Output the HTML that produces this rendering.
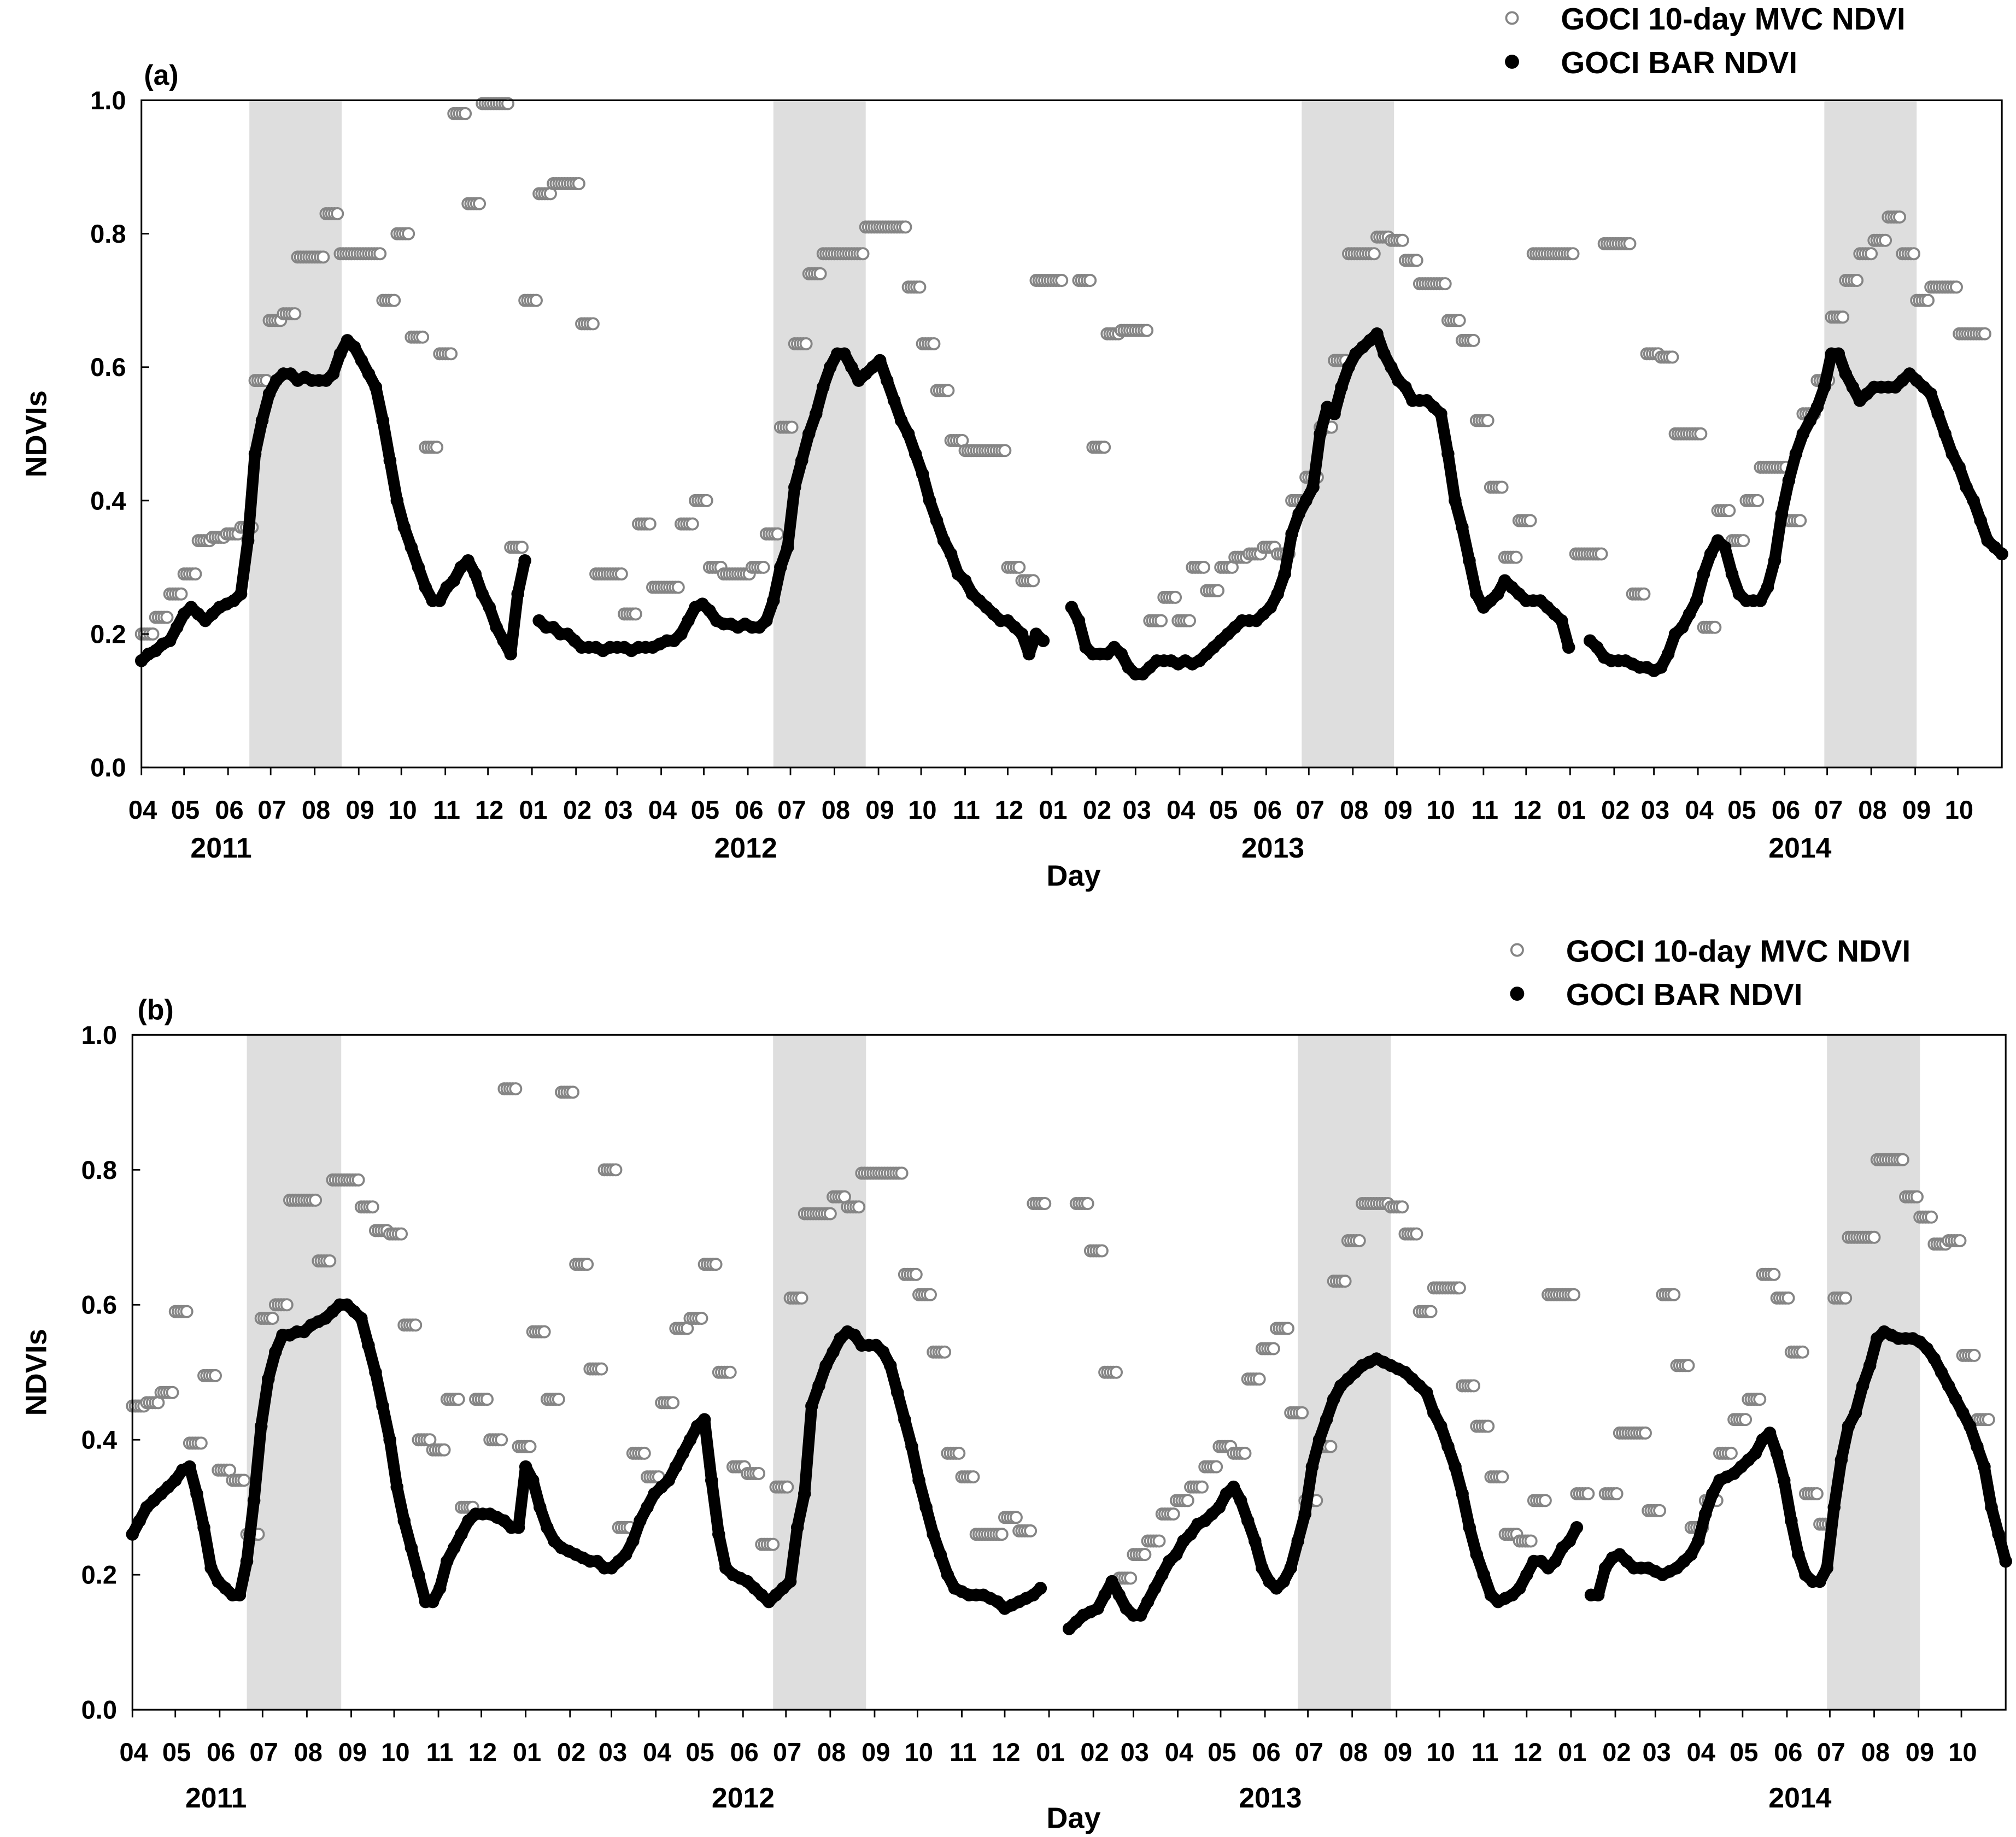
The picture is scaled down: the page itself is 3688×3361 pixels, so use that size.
<!DOCTYPE html>
<html><head><meta charset="utf-8"><style>
html,body{margin:0;padding:0;background:#fff;}
svg{display:block;font-family:"Liberation Sans",Arial,sans-serif;}
</style></head><body>
<svg id="chart" width="3688" height="3361" viewBox="0 0 1568 1429" preserveAspectRatio="none" xmlns="http://www.w3.org/2000/svg">
<rect width="1568" height="1429" fill="#fff"/>
</svg>
<script>
// ---- data (5-day step for BAR, 10-day step for MVC; day 0 = 2011-04-01) ----
const barA = [.16,.17,.175,.185,.19,.21,.23,.24,.23,.22,.23,.24,.245,.25,.26,.34,.47,.52,.56,.58,.59,.59,.58,.585,.58,.58,.58,.59,.62,.64,.63,.61,.59,.57,.52,.46,.40,.36,.33,.30,.27,.25,.25,.27,.28,.30,.31,.29,.26,.24,.21,.19,.17,.26,.31,null,.22,.21,.21,.20,.20,.19,.18,.18,.18,.175,.18,.18,.18,.175,.18,.18,.18,.185,.19,.19,.20,.22,.24,.245,.235,.22,.215,.215,.21,.215,.21,.21,.22,.25,.30,.33,.42,.46,.50,.53,.57,.60,.62,.62,.60,.58,.59,.60,.61,.58,.55,.52,.50,.47,.44,.40,.37,.34,.32,.29,.28,.26,.25,.24,.23,.22,.22,.21,.20,.17,.20,.19,null,null,null,.24,.22,.18,.17,.17,.17,.18,.17,.15,.14,.14,.15,.16,.16,.16,.155,.16,.155,.16,.17,.18,.19,.20,.21,.22,.22,.22,.23,.24,.26,.29,.35,.38,.40,.42,.50,.54,.53,.57,.60,.62,.63,.64,.65,.62,.60,.58,.57,.55,.55,.55,.54,.53,.47,.40,.36,.31,.26,.24,.25,.26,.28,.27,.26,.25,.25,.25,.24,.23,.22,.18,null,null,.19,.18,.165,.16,.16,.16,.155,.15,.15,.145,.15,.17,.20,.21,.23,.25,.29,.32,.34,.33,.29,.26,.25,.25,.25,.27,.31,.38,.43,.47,.50,.52,.54,.57,.62,.62,.59,.57,.55,.56,.57,.57,.57,.57,.58,.59,.58,.57,.56,.53,.50,.47,.45,.42,.40,.37,.34,.33,.32];
const mvcA = [.20,.225,.26,.29,.34,.345,.35,.36,.58,.67,.68,.765,.765,.83,.77,.77,.77,.70,.80,.645,.48,.62,.98,.845,.995,.995,.33,.70,.86,.875,.875,.665,.29,.29,.23,.365,.27,.27,.365,.40,.30,.29,.29,.30,.35,.51,.635,.74,.77,.77,.77,.81,.81,.81,.72,.635,.565,.49,.475,.475,.475,.30,.28,.73,.73,null,.73,.48,.65,.655,.655,.22,.255,.22,.30,.265,.30,.315,.32,.33,.32,.40,.435,.51,.61,.77,.77,.795,.79,.76,.725,.725,.67,.64,.52,.42,.315,.37,.77,.77,.77,.32,.32,.785,.785,.26,.62,.615,.50,.50,.21,.385,.34,.40,.45,.45,.37,.53,.58,.675,.73,.77,.79,.825,.77,.70,.72,.72,.65,.65,null];
const barB = [.26,.28,.30,.31,.32,.33,.34,.355,.36,.32,.27,.21,.19,.18,.17,.17,.22,.31,.42,.49,.53,.555,.555,.56,.56,.57,.575,.58,.59,.60,.60,.59,.58,.54,.50,.45,.40,.33,.28,.24,.20,.16,.16,.18,.22,.24,.26,.28,.29,.29,.29,.285,.28,.27,.27,.36,.34,.30,.27,.25,.24,.235,.23,.225,.22,.22,.21,.21,.22,.23,.25,.28,.30,.32,.33,.34,.36,.38,.40,.42,.43,.34,.26,.21,.20,.195,.19,.18,.17,.16,.17,.18,.19,.27,.32,.45,.48,.51,.53,.55,.56,.555,.54,.54,.54,.53,.51,.47,.43,.39,.34,.30,.26,.23,.20,.18,.175,.17,.17,.17,.165,.16,.15,.155,.16,.165,.17,.18,null,null,null,.12,.13,.14,.145,.15,.17,.19,.17,.15,.14,.14,.16,.18,.20,.22,.23,.25,.26,.275,.28,.29,.30,.32,.33,.31,.28,.25,.21,.19,.18,.19,.21,.25,.29,.36,.40,.43,.46,.48,.49,.50,.51,.515,.52,.515,.51,.505,.50,.49,.48,.47,.44,.42,.39,.36,.32,.27,.23,.20,.17,.16,.165,.17,.18,.20,.22,.22,.21,.22,.24,.25,.27,null,.17,.17,.21,.225,.23,.22,.21,.21,.21,.205,.20,.205,.21,.22,.23,.25,.29,.32,.34,.345,.35,.36,.37,.38,.40,.41,.38,.34,.28,.23,.20,.19,.19,.21,.30,.37,.42,.44,.48,.51,.55,.56,.555,.55,.55,.55,.545,.535,.52,.50,.48,.46,.44,.42,.39,.36,.30,.26,.22];
const mvcB = [.45,.455,.47,.59,.395,.495,.355,.34,.26,.58,.60,.755,.755,.665,.785,.785,.745,.71,.705,.57,.40,.385,.46,.30,.46,.40,.92,.39,.56,.46,.915,.66,.505,.80,.27,.38,.345,.455,.565,.58,.66,.50,.36,.35,.245,.33,.61,.735,.735,.76,.745,.795,.795,.795,.645,.615,.53,.38,.345,.26,.26,.285,.265,.75,null,null,.75,.68,.50,.195,.23,.25,.29,.31,.33,.36,.39,.38,.49,.535,.565,.44,.31,.39,.635,.695,.75,.75,.745,.705,.59,.625,.625,.48,.42,.345,.26,.25,.31,.615,.615,.32,null,.32,.41,.41,.295,.615,.51,.27,.31,.38,.43,.46,.645,.61,.53,.32,.275,.61,.70,.70,.815,.815,.76,.73,.69,.695,.525,.43,null];
const bandsA = [[76,141],[445,510],[817,882],[1185,1250]];
const bandsB = [[80,146],[448,513],[815,880],[1185,1250]];
const yTicks = ["0.0","0.2","0.4","0.6","0.8","1.0"];
const years = ["2011","2012","2013","2014"];

const NS="http://www.w3.org/2000/svg";
const svg=document.getElementById('chart');
function mk(tag,attrs,parent){const e=document.createElementNS(NS,tag);for(const k in attrs)e.setAttribute(k,attrs[k]);(parent||svg).appendChild(e);return e;}
const TOTAL=1310;
function dayOf(y,m){return Math.round((Date.UTC(y,m-1,1)-Date.UTC(2011,3,1))/86400000);}

function panel(p){
  const g=mk('g',{});
  
  
  const xs=d=>p.x0+d/TOTAL*(p.x1-p.x0);
  const ys=v=>p.y0-v*(p.y0-p.y1);
  p.bands.forEach(b=>{const r=mk('rect',{x:xs(b[0]),y:p.y1,width:xs(b[1])-xs(b[0]),height:p.y0-p.y1,fill:'#dedede'},g);
    
    });
  // MVC
  p.mvc.forEach((v,j)=>{if(v==null)return;for(let k=0;k<10;k+=2){const d=j*10+k;if(d>TOTAL)continue;
    const c=mk('circle',{cx:xs(d),cy:ys(v),r:4.3,fill:'#fff',stroke:'#858585','stroke-width':1.6},g);
    
    }});
  // BAR: connect consecutive daily-composite samples with thick round segments (dense dot look)
  for(let i=1;i<p.bar.length;i++){const a=p.bar[i-1],b=p.bar[i];if(a==null||b==null)continue;
    const s=mk('line',{x1:xs((i-1)*5),y1:ys(a),x2:xs(i*5),y2:ys(b),stroke:'#000','stroke-width':9,'stroke-linecap':'round'},g);
    
    }
  p.bar.forEach((v,i)=>{if(v==null)return;const c=mk('circle',{cx:xs(i*5),cy:ys(v),r:5,fill:'#000'},g);
    
    });
  mk('rect',{x:p.x0,y:p.y1,width:p.x1-p.x0,height:p.y0-p.y1,fill:'none',stroke:'#000','stroke-width':1.3},g);
  yTicks.forEach(t=>{const y=ys(parseFloat(t));mk('line',{x1:p.x0,x2:p.x0+6,y1:y,y2:y,stroke:'#000','stroke-width':1.2},g);
    const tx=mk('text',{x:p.x0-12,y:y+7,'text-anchor':'end','font-size':20,'font-weight':'bold'},g);tx.textContent=t;
    
    });
  for(let k=0;k<43;k++){const yr=2011+Math.floor((k+3)/12),m=((k+3)%12)+1;const x=xs(dayOf(yr,m));
    mk('line',{x1:x,x2:x,y1:p.y0,y2:p.y0+6,stroke:'#000','stroke-width':1.2},g);
    const tx=mk('text',{x:x+1,y:p.y0+40,'text-anchor':'middle','font-size':20,'font-weight':'bold'},g);tx.textContent=String(m).padStart(2,'0');
    
    }
  years.forEach((y,i)=>{const tx=mk('text',{x:p.yearX[i],y:p.y0+p.yearDy,'text-anchor':'middle','font-size':22,'font-weight':'bold'},g);tx.textContent=y;
    
    });
  const dl=mk('text',{x:835,y:p.y0+92,'text-anchor':'middle','font-size':23,'font-weight':'bold'},g);dl.textContent='Day';
  
  
  const yl=mk('text',{x:0,y:0,transform:`translate(36,${(p.y0+p.y1)/2}) rotate(-90)`,'text-anchor':'middle','font-size':23,'font-weight':'bold'},g);yl.textContent='NDVIs';
  
  
  const pl=mk('text',{x:p.labX,y:p.y1-12,'font-size':22,'font-weight':'bold'},g);pl.textContent=p.lab;
  
  
  const l1=mk('circle',{cx:p.legX,cy:p.legY,r:4.5,fill:'#fff',stroke:'#858585','stroke-width':1.6},g);
  
  
  const t1=mk('text',{x:p.legX+38,y:p.legY+9,'font-size':24,'font-weight':'bold'},g);t1.textContent='GOCI 10-day MVC NDVI';
  
  
  const l2=mk('circle',{cx:p.legX,cy:p.legY+34,r:5.5,fill:'#000'},g);
  
  
  const t2=mk('text',{x:p.legX+38,y:p.legY+43,'font-size':24,'font-weight':'bold'},g);t2.textContent='GOCI BAR NDVI';
  
  
}
panel({name:'panel-a',x0:110,x1:1557,y0:597,y1:78,bar:barA,mvc:mvcA,bands:bandsA,yearX:[172,580,990,1400],yearDy:70,lab:'(a)',labX:112,legX:1176,legY:14});
panel({name:'panel-b',x0:103,x1:1560,y0:1330,y1:805,bar:barB,mvc:mvcB,bands:bandsB,yearX:[168,578,988,1400],yearDy:76,lab:'(b)',labX:107,legX:1180,legY:739});
</script>
</body></html>
